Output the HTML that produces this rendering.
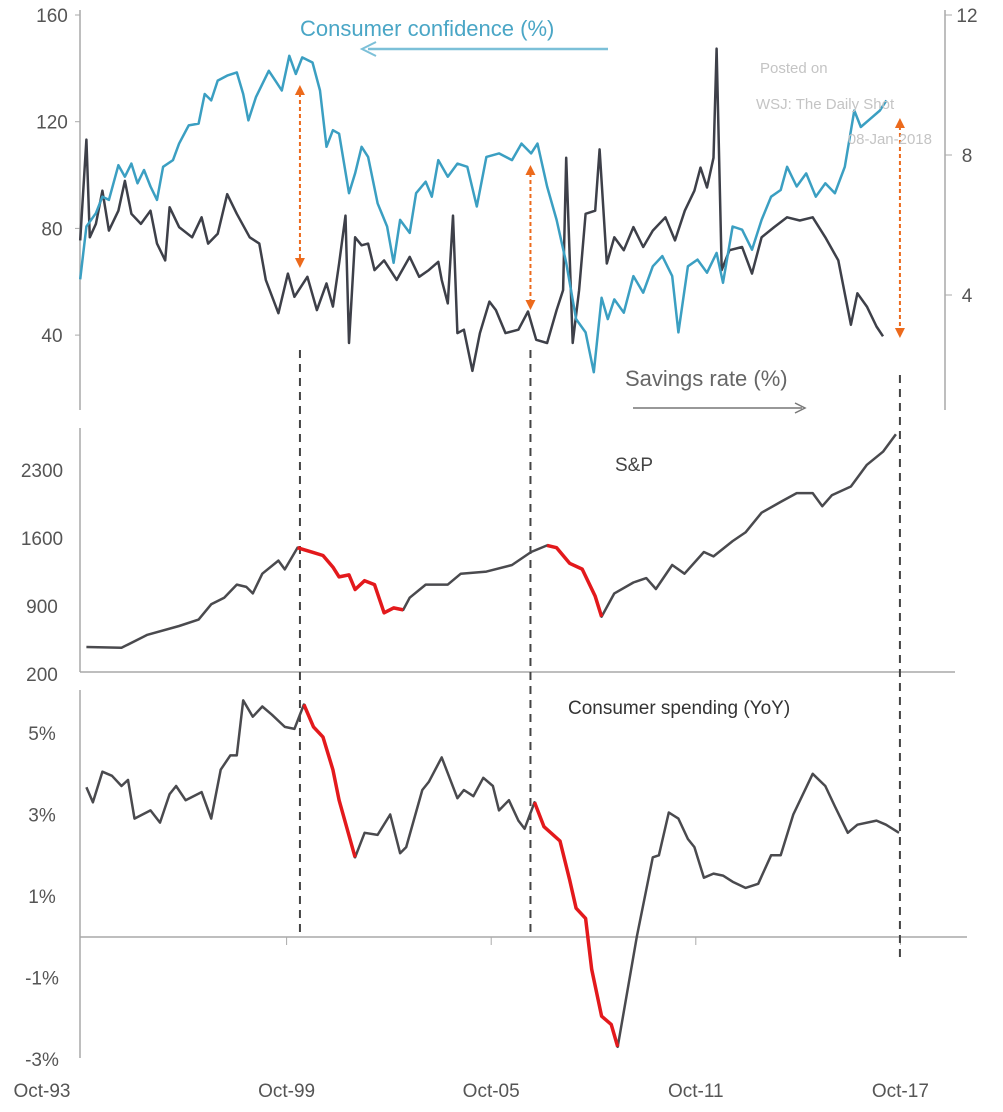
<!DOCTYPE html>
<html><head><meta charset="utf-8"><style>
html,body{margin:0;padding:0;background:#fff;}
svg{display:block;font-family:"Liberation Sans",sans-serif;}
.lab{fill:#555;font-size:19px;}
</style></head><body>
<svg id="chart" width="1003" height="1112" viewBox="0 0 1003 1112" xmlns="http://www.w3.org/2000/svg">
<g id="axes" stroke="#a8a8a8" stroke-width="1.5" fill="none">
 <line x1="80" y1="10" x2="80" y2="410"/>
 <line x1="945" y1="10" x2="945" y2="410"/>
 <line x1="80" y1="428" x2="80" y2="672"/>
 <line x1="80" y1="672" x2="955" y2="672"/>
 <line x1="80" y1="690" x2="80" y2="1058"/>
 <line x1="80" y1="937" x2="967" y2="937"/>
</g>
<g id="ticks"></g>
<g id="guides"></g>
<g id="series"></g>
<g>
 <text x="300" y="36" fill="#4aa6c6" font-size="22">Consumer confidence (%)</text>
 <line x1="608" y1="49" x2="368" y2="49" stroke="#7cc0d8" stroke-width="2.5"/>
 <polyline points="376,42 362,49 376,56" fill="none" stroke="#7cc0d8" stroke-width="2"/>
 <text x="625" y="386" fill="#666" font-size="22">Savings rate (%)</text>
 <line x1="633" y1="408" x2="802" y2="408" stroke="#777" stroke-width="1.5"/>
 <polyline points="795,403 805,408 795,413" fill="none" stroke="#777" stroke-width="1.5"/>
 <text x="760" y="73" fill="#c4c4c4" font-size="15">Posted on</text>
 <text x="756" y="109" fill="#c4c4c4" font-size="15">WSJ: The Daily Shot</text>
 <text x="932" y="144" fill="#c4c4c4" font-size="15" text-anchor="end">08-Jan-2018</text>
 <text x="615" y="471" fill="#444" font-size="19">S&amp;P</text>
 <text x="568" y="714" fill="#333" font-size="19">Consumer spending  (YoY)</text>
</g>
</svg>
<script>
// ---- data ----
const savDates=[1993.64,1993.82,1993.92,1994.10,1994.29,1994.48,1994.76,1994.95,1995.14,1995.42,1995.70,1995.89,1996.13,1996.26,1996.54,1996.92,1997.20,1997.39,1997.67,1997.95,1998.23,1998.61,1998.89,1999.08,1999.45,1999.73,1999.92,2000.30,2000.58,2000.86,2001.05,2001.23,2001.42,2001.52,2001.70,2001.89,2002.08,2002.27,2002.55,2002.92,2003.30,2003.58,2003.86,2004.14,2004.24,2004.42,2004.57,2004.70,2004.89,2005.14,2005.36,2005.64,2005.83,2006.11,2006.49,2006.77,2007.01,2007.33,2007.61,2007.80,2007.89,2008.08,2008.27,2008.46,2008.74,2008.87,2009.08,2009.30,2009.58,2009.86,2010.15,2010.43,2010.80,2011.08,2011.37,2011.65,2011.83,2012.02,2012.21,2012.30,2012.45,2012.68,2013.05,2013.34,2013.62,2013.99,2014.37,2014.74,2015.12,2015.49,2015.87,2016.24,2016.43,2016.71,2016.99,2017.18];
const savValues=[5.56,8.44,5.65,6.03,6.98,5.84,6.41,7.26,6.32,6.03,6.41,5.47,4.99,6.51,5.94,5.65,6.22,5.47,5.75,6.88,6.32,5.65,5.47,4.43,3.48,4.61,3.95,4.52,3.57,4.33,3.67,4.90,6.27,2.63,5.65,5.42,5.47,4.71,4.99,4.43,5.09,4.52,4.71,4.95,4.43,3.76,6.27,2.91,3.01,1.83,2.91,3.81,3.57,2.91,3.01,3.53,2.72,2.63,3.57,4.14,7.92,2.63,4.14,6.32,6.41,8.16,4.90,5.65,5.28,5.94,5.37,5.84,6.22,5.56,6.41,6.98,7.64,7.07,7.92,11.04,4.71,5.28,5.37,4.61,5.65,5.94,6.22,6.13,6.22,5.65,4.99,3.15,4.05,3.67,3.10,2.82];
const confDates=[1993.64,1993.82,1994.10,1994.29,1994.48,1994.76,1994.95,1995.14,1995.32,1995.51,1995.70,1995.89,1996.07,1996.36,1996.54,1996.82,1997.11,1997.29,1997.48,1997.67,1997.95,1998.23,1998.42,1998.57,1998.79,1999.17,1999.36,1999.55,1999.77,1999.96,2000.15,2000.45,2000.67,2000.86,2001.05,2001.23,2001.52,2001.70,2001.89,2002.08,2002.36,2002.64,2002.83,2003.02,2003.30,2003.49,2003.77,2003.95,2004.14,2004.42,2004.70,2004.99,2005.27,2005.55,2005.92,2006.30,2006.58,2006.86,2007.05,2007.33,2007.61,2007.89,2008.18,2008.46,2008.70,2008.93,2009.11,2009.30,2009.58,2009.86,2010.15,2010.43,2010.71,2011.00,2011.18,2011.46,2011.74,2012.02,2012.30,2012.49,2012.77,2013.05,2013.34,2013.62,2013.90,2014.18,2014.37,2014.65,2014.93,2015.21,2015.49,2015.77,2016.06,2016.34,2016.53,2016.81,2017.09,2017.28];
const confValues=[60.9,80.7,85.7,91.9,90.7,103.7,99.4,104.3,96.9,101.9,95.7,90.7,103.1,105.6,111.8,118.6,119.3,130.4,128.0,135.4,137.3,138.5,130.4,120.5,129.2,139.1,135.4,131.7,144.7,137.9,144.1,142.2,131.7,110.6,116.8,115.5,93.2,100.6,110.6,106.8,89.4,80.7,67.1,83.2,78.3,93.2,97.5,91.9,105.6,99.4,104.3,103.1,88.2,106.8,108.1,105.6,111.8,108.1,111.8,95.7,83.2,67.1,46.0,41.0,26.1,54.0,46.0,53.4,48.4,62.1,55.9,65.8,69.6,62.1,41.0,65.8,68.3,63.4,70.8,59.6,80.7,79.5,72.0,83.2,91.9,94.4,103.1,95.7,100.6,91.9,96.9,93.2,103.1,124.2,118.0,121.1,124.2,128.0];
const spDates=[1993.82,1994.85,1995.61,1996.54,1997.11,1997.48,1997.86,1998.23,1998.51,1998.70,1998.98,1999.45,1999.64,2000.01,2000.20,2000.48,2000.76,2001.05,2001.23,2001.52,2001.70,2001.98,2002.27,2002.55,2002.83,2003.11,2003.30,2003.77,2004.42,2004.80,2005.55,2006.30,2006.86,2007.33,2007.61,2007.99,2008.36,2008.74,2008.93,2009.30,2009.86,2010.24,2010.52,2011.00,2011.36,2011.93,2012.21,2012.77,2013.15,2013.62,2014.18,2014.65,2015.12,2015.40,2015.68,2016.24,2016.71,2017.18,2017.56];
const spValues=[478,470,604,694,760,918,985,1120,1097,1030,1232,1367,1277,1500,1480,1450,1420,1300,1200,1220,1070,1160,1120,830,880,860,985,1120,1120,1232,1254,1322,1456,1524,1500,1340,1280,1000,790,1030,1142,1187,1075,1322,1232,1456,1411,1568,1658,1860,1972,2062,2062,1927,2040,2130,2354,2488,2668];
const csDates=[1993.82,1994.01,1994.29,1994.57,1994.85,1995.04,1995.23,1995.70,1995.98,1996.26,1996.45,1996.73,1997.20,1997.48,1997.76,1998.04,1998.23,1998.42,1998.70,1998.98,1999.26,1999.64,1999.92,2000.20,2000.48,2000.76,2001.05,2001.23,2001.70,2001.98,2002.36,2002.73,2003.02,2003.20,2003.67,2003.86,2004.24,2004.70,2004.89,2005.17,2005.46,2005.74,2005.92,2006.21,2006.49,2006.67,2006.96,2007.24,2007.71,2007.99,2008.18,2008.46,2008.64,2008.93,2009.21,2009.40,2009.96,2010.43,2010.61,2010.90,2011.18,2011.46,2011.65,2011.93,2012.21,2012.49,2012.77,2013.15,2013.52,2013.90,2014.18,2014.55,2015.12,2015.49,2015.77,2016.15,2016.43,2016.99,2017.27,2017.65];
const csValues=[3.67,3.3,4.05,3.95,3.7,3.85,2.9,3.1,2.8,3.5,3.7,3.35,3.55,2.9,4.1,4.45,4.45,5.8,5.4,5.65,5.45,5.15,5.1,5.7,5.15,4.9,4.1,3.35,1.95,2.55,2.5,3.0,2.05,2.2,3.6,3.8,4.4,3.4,3.6,3.45,3.9,3.7,3.1,3.35,2.85,2.65,3.3,2.7,2.35,1.4,0.7,0.45,-0.8,-1.95,-2.15,-2.7,0.0,1.95,2.0,3.05,2.9,2.4,2.2,1.45,1.55,1.5,1.35,1.2,1.3,2.0,2.0,3.0,4.0,3.7,3.2,2.55,2.75,2.85,2.75,2.55];
const spRed=[[2000.01,2003.11],[2007.33,2008.93]];
const csRed=[[2000.20,2001.70],[2006.96,2009.40]];
const leftTicks=[160,120,80,40];
const rightTicks=[12,8,4];
const spTicks=[2300,1600,900,200];
const csTicks=[5,3,1,-1,-3];
const xLabels=["Oct-93","Oct-99","Oct-05","Oct-11","Oct-17"];
const xLabelYears=[1993.75,1999.75,2005.75,2011.75,2017.75];
const markYears=[2000.2,2006.96,2018.0];

// ---- scales ----
const X=d=>84+(d-1993.75)*34.1;
const yL=v=>15+(160-v)*106.7/40;
const yR=v=>15+(12-v)*35;
const yS=v=>470+(2300-v)*68/700;
const yC=v=>733+(5-v)*40.75;
const NS='http://www.w3.org/2000/svg';
const mk=(tag,parent,attrs)=>{const e=document.createElementNS(NS,tag);for(const k in attrs)e.setAttribute(k,attrs[k]);parent.appendChild(e);return e;};
const ser=document.getElementById('series'),tk=document.getElementById('ticks'),gd=document.getElementById('guides');

function line(dates,vals,ys,color,name,w){
  const p=mk('polyline',ser,{points:dates.map((d,i)=>X(d).toFixed(1)+','+ys(vals[i]).toFixed(1)).join(' '),fill:'none',stroke:color,'stroke-width':w,'stroke-linejoin':'round'});
  
  
}
function redSegs(dates,vals,ys,ranges,name){
  ranges.forEach(r=>{
    const idx=dates.map((d,i)=>i).filter(i=>dates[i]>=r[0]-0.001&&dates[i]<=r[1]+0.001);
    const p=mk('polyline',ser,{points:idx.map(i=>X(dates[i]).toFixed(1)+','+ys(vals[i]).toFixed(1)).join(' '),fill:'none',stroke:'#e3191c','stroke-width':3.5,'stroke-linejoin':'round'});
    
    
  });
}
line(savDates,savValues,yR,'#3e4049','savings-rate-line',2.5);
line(confDates,confValues,yL,'#3b9fc2','consumer-confidence-line',2.5);
line(spDates,spValues,yS,'#4a4a4e','sp500-line',2.5);
redSegs(spDates,spValues,yS,spRed,'sp500-decline-segment');
line(csDates,csValues,yC,'#4a4a4e','consumer-spending-line',2.5);
redSegs(csDates,csValues,yC,csRed,'consumer-spending-decline-segment');

function label(x,y,t,anchor,name){
  const e=mk('text',tk,{x:x,y:y,'text-anchor':anchor,class:'lab'});e.textContent=t;
  
  
}
leftTicks.forEach(v=>{label(52,yL(v)+7,String(v),'middle','left-tick-label');mk('line',tk,{x1:75,x2:80,y1:yL(v),y2:yL(v),stroke:'#aaa'});});
rightTicks.forEach(v=>{label(967,yR(v)+7,String(v),'middle','right-tick-label');mk('line',tk,{x1:945,x2:952,y1:yR(v),y2:yR(v),stroke:'#aaa'});});
spTicks.forEach(v=>{label(42,yS(v)+7,String(v),'middle','sp-tick-label');});
csTicks.forEach(v=>{label(42,yC(v)+7,v+'%','middle','spending-tick-label');});
xLabels.forEach((t,i)=>{
  const x=i===0?42:X(xLabelYears[i])-2;
  label(x,1097,t,'middle','x-tick-label');
  if(i>0)mk('line',tk,{x1:X(xLabelYears[i])-2,x2:X(xLabelYears[i])-2,y1:937,y2:945,stroke:'#aaa'});
});

// guides: dashed verticals and orange arrows
const guideTop=[350,350,375],guideBot=[933,933,960],arrTop=[85,165,118],arrBot=[268,310,338];
markYears.forEach((d,i)=>{
  const x=X(d)+(i===2?-11:-4);
  const v=mk('line',gd,{x1:x,x2:x,y1:guideTop[i],y2:guideBot[i],stroke:'#444','stroke-width':2,'stroke-dasharray':'8,6'});
  
  
  const a=mk('line',gd,{x1:x,x2:x,y1:arrTop[i]+8,y2:arrBot[i]-8,stroke:'#ec6a1c','stroke-width':2,'stroke-dasharray':'4,3'});
  
  
  mk('polygon',gd,{points:`${x-5},${arrTop[i]+10} ${x},${arrTop[i]} ${x+5},${arrTop[i]+10}`,fill:'#ec6a1c'});
  mk('polygon',gd,{points:`${x-5},${arrBot[i]-10} ${x},${arrBot[i]} ${x+5},${arrBot[i]-10}`,fill:'#ec6a1c'});
});
</script>
</body></html>
